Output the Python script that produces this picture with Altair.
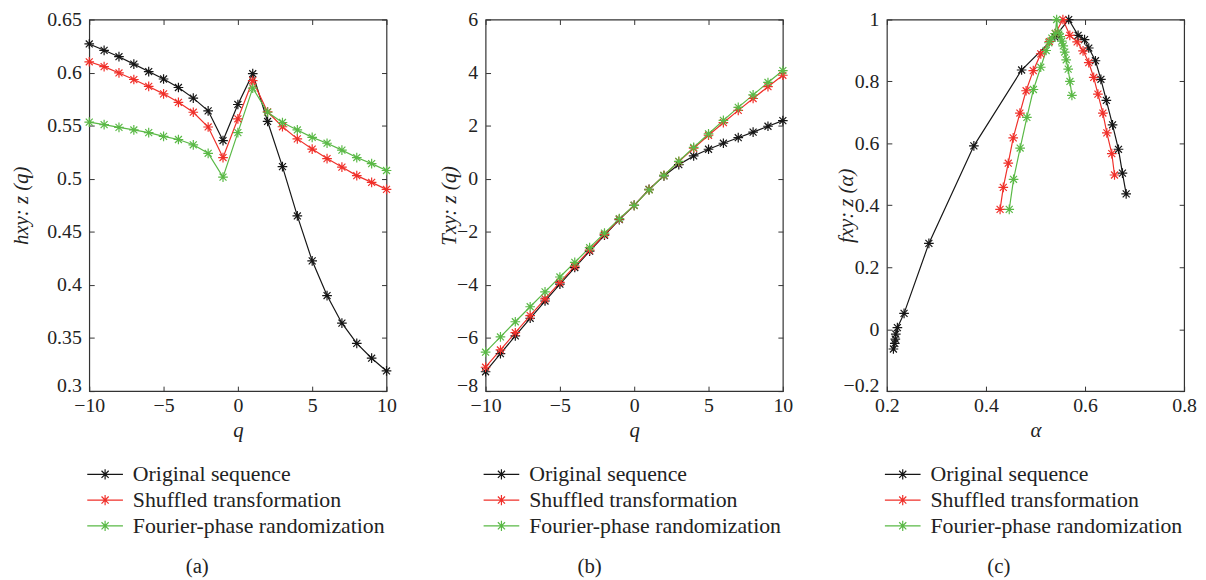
import altair as alt
import pandas as pd

SERIES = ["Original sequence", "Shuffled transformation", "Fourier-phase randomization"]
COLORS = ["#161616", "#f0302a", "#5ab946"]

q = list(range(-10, 11))

# (a) generalized Hurst exponent h(q)
h_orig = [0.627, 0.621, 0.615, 0.608, 0.601, 0.594, 0.586, 0.576, 0.564, 0.536, 0.570,
          0.599, 0.554, 0.5115, 0.465, 0.4227, 0.390, 0.364, 0.345, 0.331, 0.319]
h_shuf = [0.6102, 0.6056, 0.5997, 0.5935, 0.587, 0.580, 0.572, 0.5627, 0.5488, 0.520, 0.5565,
          0.5925, 0.563, 0.549, 0.5376, 0.528, 0.519, 0.511, 0.503, 0.4966, 0.490]
h_four = [0.5534, 0.551, 0.5484, 0.546, 0.5435, 0.540, 0.537, 0.532, 0.524, 0.5016, 0.5435,
          0.5854, 0.5627, 0.553, 0.546, 0.539, 0.5335, 0.527, 0.520, 0.5143, 0.5078]

# (b) mass exponent tau(q)
t_orig = [-7.27, -6.59, -5.92, -5.256, -4.606, -3.97, -3.344, -2.728, -2.128, -1.536, -1.0,
          -0.401, 0.108, 0.534, 0.86, 1.113, 1.34, 1.548, 1.76, 1.979, 2.19]
t_shuf = [-7.10, -6.45, -5.80, -5.155, -4.522, -3.90, -3.288, -2.688, -2.098, -1.52, -1.0,
          -0.407, 0.126, 0.647, 1.150, 1.64, 2.114, 2.577, 3.024, 3.469, 3.90]
t_four = [-6.534, -5.959, -5.387, -4.822, -4.261, -3.70, -3.148, -2.596, -2.048, -1.502, -1.0,
          -0.415, 0.125, 0.659, 1.184, 1.695, 2.201, 2.689, 3.16, 3.629, 4.078]

# (c) multifractal spectrum f(alpha)
a_orig = [0.683, 0.6755, 0.6675, 0.6555, 0.643, 0.632, 0.621, 0.6075, 0.599, 0.586, 0.567,
          0.539, 0.472, 0.3756, 0.2848, 0.2347, 0.2212, 0.218, 0.217, 0.216, 0.2132]
f_orig = [0.437, 0.504, 0.581, 0.66, 0.739, 0.807, 0.867, 0.908, 0.935, 0.949, 1.0,
          0.944, 0.837, 0.592, 0.277, 0.051, 0.005, -0.016, -0.032, -0.046, -0.064]
a_shuf = [0.6595, 0.654, 0.644, 0.636, 0.626, 0.6175, 0.6075, 0.596, 0.584, 0.5693, 0.5553,
          0.54, 0.528, 0.5106, 0.4955, 0.481, 0.4685, 0.455, 0.445, 0.435, 0.4285]
f_shuf = [0.498, 0.567, 0.634, 0.698, 0.759, 0.813, 0.861, 0.899, 0.928, 0.949, 1.0,
          0.955, 0.929, 0.889, 0.835, 0.77, 0.698, 0.618, 0.536, 0.458, 0.387]
a_four = [0.5735, 0.5695, 0.566, 0.562, 0.559, 0.556, 0.553, 0.55, 0.547, 0.545, 0.5427,
          0.54, 0.533, 0.527, 0.5215, 0.5106, 0.4958, 0.4826, 0.469, 0.4557, 0.447]
f_four = [0.755, 0.80, 0.84, 0.87, 0.895, 0.915, 0.93, 0.945, 0.953, 0.958, 1.0,
          0.955, 0.94, 0.925, 0.9, 0.846, 0.774, 0.684, 0.585, 0.484, 0.387]


def long_df(xs_list, ys_list):
    rows = []
    for name, xs, ys in zip(SERIES, xs_list, ys_list):
        for i, (xv, yv) in enumerate(zip(xs, ys)):
            rows.append({"series": name, "x": xv, "y": yv, "q": q[i]})
    return pd.DataFrame(rows)


df_a = long_df([q, q, q], [h_orig, h_shuf, h_four])
df_b = long_df([q, q, q], [t_orig, t_shuf, t_four])
df_c = long_df([a_orig, a_shuf, a_four], [f_orig, f_shuf, f_four])

SERIF = "Liberation Serif"
STAR = "M-1,0H1M0,-1V1M-0.72,-0.72L0.72,0.72M-0.72,0.72L0.72,-0.72"
LEG = "M-3,0H3M0,-0.85V0.85M-0.6,-0.6L0.6,0.6M-0.6,0.6L0.6,-0.6"
W, H = 300, 375
TICK_FS = 20


def panel(df, xdom, ydom, xticks, yticks, xfmt, yfmt, xtitle, ytitle, ytitle_x,
          caption, cap_dx):
    xs = alt.Scale(domain=xdom, nice=False, zero=False, padding=0)
    ys = alt.Scale(domain=ydom, nice=False, zero=False, padding=0)
    common = dict(offset=-5, tickSize=5, domain=False, grid=False, tickColor="#333",
                  tickWidth=1, labelFlush=False)
    x_bot = alt.X("x:Q", scale=xs, axis=alt.Axis(
        orient="bottom", values=xticks, format=xfmt, title=xtitle, labelPadding=5,
        labelFont=SERIF, labelFontSize=TICK_FS, labelColor="#222",
        titleFont=SERIF, titleFontSize=21, titleFontStyle="italic", titleFontWeight="normal",
        titleColor="#222", titlePadding=4, **common))
    # lift the lowest y label a little so it does not touch the first x label
    lift = {"expr": f"datum.value <= {ydom[0]} + 1e-9 ? -6 : 0"}
    y_left = alt.Y("y:Q", scale=ys, axis=alt.Axis(
        orient="left", values=yticks, format=yfmt, title=ytitle, labelPadding=8,
        labelFont=SERIF, labelFontSize=TICK_FS, labelColor="#222", labelOffset=lift,
        titleFont=SERIF, titleFontSize=21, titleFontStyle="italic", titleFontWeight="normal",
        titleColor="#222", titleX=ytitle_x, titleY=H / 2, titleBaseline="middle",
        titleAngle=270, titleAlign="center", **common))
    x_top = alt.X("x:Q", scale=xs, axis=alt.Axis(
        orient="top", values=xticks, labels=False, title=None, **common))
    y_right = alt.Y("y:Q", scale=ys, axis=alt.Axis(
        orient="right", values=yticks, labels=False, title=None, **common))
    color = alt.Color("series:N", scale=alt.Scale(domain=SERIES, range=COLORS),
                      legend=alt.Legend(
                          title=None, orient="none", legendX=5, legendY=448,
                          symbolType=LEG, symbolSize=144, symbolStrokeWidth=1.2,
                          symbolFillColor="transparent", labelFont=SERIF,
                          labelFontSize=22, labelColor="#222", labelOffset=17,
                          rowPadding=4, padding=0, labelLimit=400))
    line = alt.Chart(df).mark_line(
        strokeWidth=1.2,
        point=alt.OverlayMarkDef(shape=STAR, filled=False, size=95, strokeWidth=1.2)
    ).encode(x=x_bot, y=y_left, color=color, order=alt.Order("q:Q"))
    ghost = alt.Chart(df).mark_point(opacity=0).encode(x=x_top, y=y_right)
    return alt.layer(line, ghost).resolve_axis(x="independent", y="independent").properties(
        width=W, height=H,
        title=alt.TitleParams(caption, orient="bottom", anchor="middle", frame="group",
                              font=SERIF, fontSize=21, fontWeight="normal", color="#222",
                              offset=20, dx=cap_dx))


pa = panel(df_a, [-10, 10], [0.3, 0.65], [-10, -5, 0, 5, 10],
           [0.3, 0.35, 0.4, 0.45, 0.5, 0.55, 0.6, 0.65], "d", ".2~f",
           "q", "hxy: z (q)", -73, "(a)", -41)
pb = panel(df_b, [-10, 10], [-8, 6], [-10, -5, 0, 5, 10],
           [-8, -6, -4, -2, 0, 2, 4, 6], "d", "d",
           "q", "Txy: z (q)", -41, "(b)", -45)
pc = panel(df_c, [0.2, 0.8], [-0.2, 1.0], [0.2, 0.4, 0.6, 0.8],
           [-0.2, 0, 0.2, 0.4, 0.6, 0.8, 1.0], ".1f", ".1~f",
           "α", "fxy: z (α)", -46, "(c)", -37)

chart = alt.hconcat(pa, pb, pc, spacing=41).resolve_scale(color="independent").resolve_legend(
    color="independent").configure_view(stroke="#333", strokeWidth=1.2).properties(
    padding={"left": 2, "top": -2, "right": 0, "bottom": 0}, background="white")

chart.save("out.html", embed_options={"renderer": "svg", "actions": False})
